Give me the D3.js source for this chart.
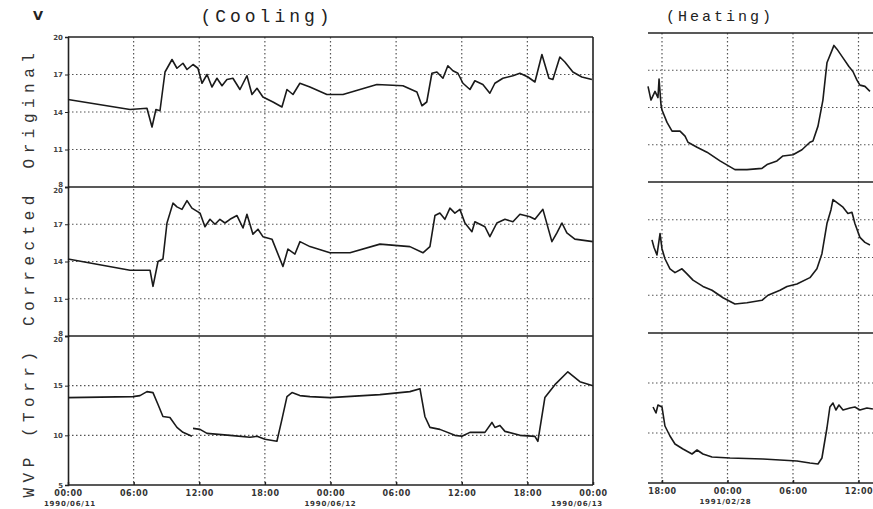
<!DOCTYPE html>
<html>
<head>
<meta charset="utf-8">
<script src="https://cdn.jsdelivr.net/npm/d3@7/dist/d3.min.js"></script>
<style>
  body { margin: 0; background: #fff; }
  svg { display: block; }
</style>
</head>
<body>
<div id="chart"></div>
<script>
// ---- data (hour, value) ----
// cooling: hours from 1990/06/11 00:00
var coolOriginal = [[0,15.0],[5.67,14.2],[7.22,14.3],[7.68,12.8],[8.04,14.2],[8.41,14.1],[8.87,17.2],[9.51,18.2],[9.96,17.5],[10.51,17.9],[10.88,17.4],[11.43,17.8],[11.88,17.5],[12.25,16.3],[12.71,17.0],[13.16,16.0],[13.62,16.7],[14.08,16.1],[14.53,16.6],[15.08,16.7],[15.72,15.8],[16.36,16.9],[16.82,15.4],[17.28,15.9],[17.82,15.2],[18.74,14.8],[19.56,14.4],[20.02,15.8],[20.57,15.4],[21.2,16.3],[22.12,16.0],[23.67,15.4],[25.14,15.4],[28.24,16.2],[30.62,16.1],[31.9,15.6],[32.36,14.5],[32.8,14.8],[33.27,17.1],[33.73,17.2],[34.28,16.7],[34.73,17.7],[35.19,17.3],[35.65,17.1],[36.11,16.3],[36.75,15.8],[37.2,16.5],[37.93,16.2],[38.57,15.5],[39.03,16.3],[39.76,16.7],[40.68,16.9],[41.32,17.1],[42.05,16.8],[42.69,16.4],[43.33,18.6],[43.97,16.7],[44.33,16.6],[44.97,18.4],[45.43,18.0],[46.16,17.2],[46.98,16.8],[47.9,16.6]];

var coolCorrected = [[0,14.2],[5.67,13.3],[7.5,13.3],[7.77,12.0],[8.23,14.0],[8.68,14.2],[9.05,17.1],[9.6,18.7],[9.96,18.4],[10.42,18.2],[10.88,18.9],[11.33,18.3],[12.07,17.9],[12.52,16.8],[12.98,17.4],[13.44,17.0],[13.89,17.4],[14.35,17.1],[14.81,17.4],[15.45,17.7],[16.0,16.7],[16.36,17.8],[16.91,16.2],[17.37,16.6],[17.82,16.0],[18.65,15.8],[19.65,13.6],[20.11,15.0],[20.75,14.6],[21.21,15.6],[22.12,15.2],[23.95,14.7],[25.78,14.7],[28.52,15.4],[31.26,15.2],[32.45,14.7],[33.09,15.2],[33.55,17.7],[34.0,17.9],[34.46,17.4],[34.92,18.3],[35.37,17.9],[35.83,18.2],[36.29,17.1],[36.93,16.4],[37.2,17.2],[38.12,16.8],[38.57,16.0],[39.21,17.1],[39.95,17.4],[40.68,17.2],[41.32,17.8],[42.23,17.6],[42.69,17.4],[43.42,18.2],[44.24,15.6],[44.7,16.3],[45.16,17.1],[45.61,16.3],[46.34,15.8],[47.99,15.6]];

var coolWvp = [[0,13.8],[5.94,13.9],[6.58,14.0],[7.22,14.4],[7.77,14.3],[8.23,13.1],[8.68,11.9],[9.32,11.8],[9.96,10.8],[10.51,10.3],[11.33,9.9],[11.38,null],[11.43,10.7],[12.07,10.6],[12.71,10.2],[14.81,10.0],[16.64,9.8],[17.28,9.9],[18.01,9.6],[19.1,9.4],[19.56,11.6],[20.02,13.9],[20.48,14.3],[21.2,14.0],[22.12,13.9],[23.95,13.8],[28.52,14.1],[31.26,14.4],[32.18,14.7],[32.63,11.9],[33.09,10.8],[34.0,10.6],[35.37,10.0],[36.01,9.9],[36.75,10.3],[38.12,10.3],[38.76,11.3],[39.03,10.8],[39.49,11.0],[39.95,10.4],[41.32,10.0],[42.69,9.9],[42.96,9.4],[43.6,13.8],[44.52,15.1],[45.7,16.4],[46.8,15.4],[47.99,15.0]];

// heating: hours from 1991/02/27 18:00
var heatOriginal = [[-1.28,15.7],[-1.01,14.6],[-0.64,15.3],[-0.37,14.8],[-0.27,16.3],[-0.09,14.2],[0,13.8],[0.46,12.8],[0.92,12.1],[1.65,12.1],[2.11,11.7],[2.38,11.2],[3.21,10.8],[4.12,10.4],[5.31,9.7],[6.68,9.0],[7.78,9.0],[9.16,9.1],[9.62,9.4],[10.53,9.7],[11.08,10.1],[12.0,10.2],[12.82,10.6],[13.55,11.2],[13.83,11.3],[14.29,12.5],[14.74,14.6],[15.11,17.6],[15.57,18.6],[15.75,19.0],[16.03,18.7],[16.58,18.0],[17.12,17.3],[17.49,16.9],[17.86,16.2],[18.13,15.8],[18.59,15.7],[19.05,15.3]];

var heatCorrected = [[-0.92,15.4],[-0.73,14.8],[-0.46,14.2],[-0.18,15.9],[0,14.7],[0.27,13.9],[0.73,13.1],[1.19,12.8],[1.83,13.1],[2.29,12.7],[2.84,12.2],[3.75,11.7],[4.58,11.4],[5.59,10.8],[6.68,10.3],[7.78,10.4],[9.16,10.6],[9.71,11.0],[10.81,11.4],[11.45,11.7],[12.36,11.9],[13.55,12.4],[14.19,13.1],[14.65,14.3],[15.11,16.7],[15.48,17.8],[15.66,18.6],[16.12,18.3],[16.58,18.0],[17.03,17.5],[17.4,17.6],[17.67,16.7],[18.13,15.6],[18.59,15.2],[19.05,15.0]];

var heatWvp = [[-0.82,12.6],[-0.55,12.0],[-0.37,12.8],[0,12.6],[0.27,10.7],[0.73,9.7],[1.19,8.9],[1.92,8.4],[2.75,7.9],[3.21,8.3],[3.75,7.9],[4.58,7.6],[6.23,7.5],[9.25,7.4],[12.36,7.2],[13.55,7.0],[14.29,6.9],[14.65,7.5],[15.11,10.5],[15.38,12.6],[15.66,13.0],[15.93,12.3],[16.21,12.8],[16.58,12.3],[17.22,12.5],[17.67,12.6],[18.13,12.3],[18.77,12.5],[19.32,12.4]];

var coolTickHours = [0,6,12,18,24,30,36,42,48];
var coolTickLabels = ["00:00","06:00","12:00","18:00","00:00","06:00","12:00","18:00","00:00"];
var coolDateHours = [0,24,48];
var coolDateLabels = ["1990/06/11","1990/06/12","1990/06/13"];
var heatTickHours = [0,6,12,18];
var heatTickLabels = ["18:00","00:00","06:00","12:00"];
var heatDateHours = [6];
var heatDateLabels = ["1991/02/28"];
var tempTicks = [8,11,14,17,20];
var wvpTicks = [5,10,15,20];
var rowTitles = ["Original","Corrected","WVP (Torr)"];

var width = 873, height = 509;
var ink = "#222";

var svg = d3.select("#chart").append("svg")
    .attr("width", width)
    .attr("height", height)
    .style("background-color", "white");

svg.append("defs").append("clipPath").attr("id", "pageclip")
    .append("rect").attr("x", 0).attr("y", 0).attr("width", width).attr("height", height);

// x scales
var xCool = d3.scaleLinear().domain([0, 48]).range([68, 593]);
var xHeat = d3.scaleLinear().domain([0, 18]).range([662, 858.5]);

// panel geometry: [top, bottom]
var coolRows = [[37, 187], [187, 336], [336, 485]];
var heatRows = [[33, 182], [182, 333], [333, 483]];
var domains = [[8, 20], [8, 20], [5, 20]];
var tickSets = [tempTicks, tempTicks, wvpTicks];
var coolSeries = [coolOriginal, coolCorrected, coolWvp];
var heatSeries = [heatOriginal, heatCorrected, heatWvp];

var line = d3.line()
    .defined(function(d) { return d[1] != null; });

function drawPanel(g, x, row, i, series, x0, x1, withAxis) {
    var y = d3.scaleLinear().domain(domains[i]).range([row[1], row[0]]);

    // horizontal dotted grid
    g.selectAll("line.hgrid" + i)
        .data(tickSets[i].slice(1, -1))
        .enter().append("line")
        .attr("x1", x0).attr("x2", x1)
        .attr("y1", function(d) { return y(d); })
        .attr("y2", function(d) { return y(d); })
        .attr("stroke", "#555")
        .attr("stroke-width", 1.2)
        .attr("stroke-dasharray", "1.5,2.5");

    // top border of panel
    g.append("line")
        .attr("x1", x0).attr("x2", x1)
        .attr("y1", row[0]).attr("y2", row[0])
        .attr("stroke", ink).attr("stroke-width", 1.6);

    if (withAxis) {
        var ax = d3.axisLeft(y).tickValues(tickSets[i]).tickSize(3).tickFormat(d3.format("d"));
        var axg = g.append("g").attr("transform", "translate(" + x0 + ",0)").call(ax);
        axg.select(".domain").attr("stroke", ink).attr("stroke-width", 1.6);
        axg.selectAll(".tick line").attr("stroke", ink);
        axg.selectAll(".tick text")
            .style("font-family", "DejaVu Sans, sans-serif")
            .style("font-size", "7px")
            .style("font-weight", "bold")
            .attr("fill", "#444")
            .attr("x", -5)
            .attr("dy", function(d) {
                if (d === domains[i][0] && i < 2) return "-0.05em";
                if (d === domains[i][1] && i > 0) return "0.85em";
                return "0.32em";
            });
    }

    g.append("path")
        .datum(series)
        .attr("fill", "none")
        .attr("stroke", "#1a1a1a")
        .attr("stroke-width", 1.6)
        .attr("stroke-linejoin", "round")
        .attr("d", line.x(function(d) { return x(d[0]); }).y(function(d) { return y(d[1]); }));
}

function drawVerticals(g, x, hours, top, bottom) {
    g.selectAll("line.vgrid")
        .data(hours)
        .enter().append("line")
        .attr("x1", function(d) { return x(d); })
        .attr("x2", function(d) { return x(d); })
        .attr("y1", top).attr("y2", bottom)
        .attr("stroke", "#555")
        .attr("stroke-width", 1.2)
        .attr("stroke-dasharray", "1.5,2.5");
}

function drawTimeAxis(g, x, hours, labels, bottom, x0, x1) {
    g.append("line")
        .attr("x1", x0).attr("x2", x1)
        .attr("y1", bottom).attr("y2", bottom)
        .attr("stroke", ink).attr("stroke-width", 1.6);
    var axis = d3.axisBottom(x).tickValues(hours).tickSize(-3)
        .tickFormat(function(d, k) { return labels[k]; });
    var ag = g.append("g").attr("transform", "translate(0," + bottom + ")").call(axis);
    ag.select(".domain").remove();
    ag.selectAll(".tick line").attr("stroke", ink).attr("stroke-width", 1.5);
    ag.selectAll(".tick text")
        .attr("y", 5)
        .style("font-family", "DejaVu Sans, sans-serif")
        .style("font-size", "8px")
        .style("font-weight", "bold")
        .style("letter-spacing", "0.6px")
        .attr("fill", "#333");
}

// ---- cooling ----
var cool = svg.append("g");
drawVerticals(cool, xCool, coolTickHours.slice(1, -1), 37, 485);
coolRows.forEach(function(row, i) {
    drawPanel(cool, xCool, row, i, coolSeries[i], 68, 593, true);
});
cool.append("line")
    .attr("x1", 593).attr("x2", 593).attr("y1", 37).attr("y2", 485)
    .attr("stroke", ink).attr("stroke-width", 1.6);
drawTimeAxis(cool, xCool, coolTickHours, coolTickLabels, 485, 68, 593);

cool.selectAll("text.date")
    .data(coolDateHours)
    .enter().append("text")
    .attr("class", "date")
    .attr("x", function(d, k) { return xCool(d) + (k === 0 ? 2 : (k === 2 ? -16 : 0)); })
    .attr("y", 506)
    .attr("text-anchor", "middle")
    .style("font-family", "DejaVu Sans, sans-serif")
    .style("font-size", "7px")
    .style("font-weight", "bold")
    .style("letter-spacing", "0.8px")
    .attr("fill", "#333")
    .text(function(d, k) { return coolDateLabels[k]; });

// ---- heating ----
var heat = svg.append("g").attr("clip-path", "url(#pageclip)");
drawVerticals(heat, xHeat, heatTickHours, 33, 483);
heatRows.forEach(function(row, i) {
    drawPanel(heat, xHeat, row, i, heatSeries[i], 648, 880, false);
});
drawTimeAxis(heat, xHeat, heatTickHours, heatTickLabels, 483, 648, 880);

heat.selectAll("text.date")
    .data(heatDateHours)
    .enter().append("text")
    .attr("class", "date")
    .attr("x", function(d) { return xHeat(d) - 2; })
    .attr("y", 504)
    .attr("text-anchor", "middle")
    .style("font-family", "DejaVu Sans, sans-serif")
    .style("font-size", "7px")
    .style("font-weight", "bold")
    .style("letter-spacing", "0.8px")
    .attr("fill", "#333")
    .text(function(d, k) { return heatDateLabels[k]; });

// ---- titles ----
svg.append("text")
    .attr("x", 267).attr("y", 22)
    .attr("text-anchor", "middle")
    .style("font-family", "Liberation Mono, monospace")
    .style("font-size", "18px")
    .style("letter-spacing", "4px")
    .attr("fill", ink)
    .text("(Cooling)");

svg.append("text")
    .attr("x", 720).attr("y", 21)
    .attr("text-anchor", "middle")
    .style("font-family", "Liberation Mono, monospace")
    .style("font-size", "15px")
    .style("letter-spacing", "3px")
    .attr("fill", ink)
    .text("(Heating)");

svg.append("text")
    .attr("x", 38).attr("y", 20)
    .attr("text-anchor", "middle")
    .style("font-family", "DejaVu Sans, sans-serif")
    .style("font-size", "13px")
    .style("font-weight", "bold")
    .attr("fill", ink)
    .text("V");

var titleCentres = [108, 258, 422];
svg.selectAll("text.rowtitle")
    .data(rowTitles)
    .enter().append("text")
    .attr("class", "rowtitle")
    .attr("transform", function(d, k) { return "translate(34," + titleCentres[k] + ") rotate(-90)"; })
    .attr("text-anchor", "middle")
    .style("font-family", "Liberation Mono, monospace")
    .style("font-size", "16px")
    .style("letter-spacing", "5.5px")
    .attr("fill", "#333")
    .text(function(d) { return d; });
</script>
</body>
</html>
